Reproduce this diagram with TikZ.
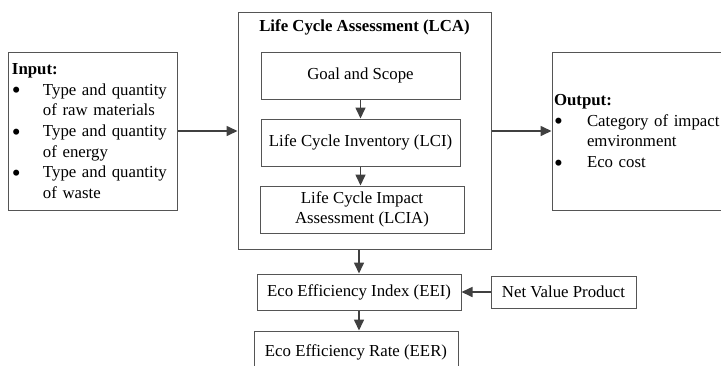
\documentclass[tikz,border=0pt]{standalone}
\usepackage{fontspec}
\setmainfont{Liberation Serif}
\usetikzlibrary{arrows.meta}
\definecolor{boxline}{RGB}{85,85,85}
\definecolor{arrline}{RGB}{64,64,64}
\tikzset{
  box/.style={draw=boxline, line width=1pt, inner sep=0pt, align=center,
    font=\fontsize{16.8}{20.7}\selectfont},
  listbox/.style={draw=boxline, line width=1pt, align=left, inner ysep=0pt,
    font=\fontsize{16.8}{20.7}\selectfont},
  arr/.style={draw=arrline, line width=1.6pt, -{Triangle[length=11pt,width=10pt]}}
}
\newcommand{\bul}[1]{\makebox[#1][l]{\smash{\raisebox{-3.6pt}{\scalebox{1.5}{•}}}}}
\begin{document}
\begin{tikzpicture}[x=1pt,y=-1pt]
\useasboundingbox (0,0) rectangle (721,365);
\clip (0,0) rectangle (721,365);
% input
\node[listbox, minimum width=169pt, minimum height=158pt, text width=161pt, inner xsep=4pt] (input) at (92.5,131)
 {\textbf{Input:}\\
  \bul{31pt}Type and quantity\\
  \hspace*{31pt}of raw materials\\
  \bul{31pt}Type and quantity\\
  \hspace*{31pt}of energy\\
  \bul{31pt}Type and quantity\\
  \hspace*{31pt}of waste};
% LCA container
\node[box, minimum width=253pt, minimum height=237pt] (lca) at (364.5,130.5) {};
\node[font=\fontsize{16.8}{20.7}\selectfont\bfseries, inner sep=0pt] (title) at (364.5,27) {Life Cycle Assessment (LCA)};
\node[box, minimum width=199pt, minimum height=47pt] (goal) at (360.5,75.5) {Goal and Scope};
\node[box, minimum width=199pt, minimum height=47pt] (lci) at (360.5,142.5) {Life Cycle Inventory (LCI)};
\node[box, minimum width=204pt, minimum height=47pt] (lcia) at (362,209.5) {Life Cycle Impact\\Assessment (LCIA)};
% output
\node[listbox, minimum width=188pt, minimum height=158pt, text width=184pt, inner xsep=2pt] (output) at (646,131)
 {\textbf{Output:}\\
  \bul{33pt}Category of impact\\
  \hspace*{33pt}emvironment\\
  \bul{33pt}Eco cost};
% bottom
\node[box, minimum width=204pt, minimum height=36pt] (eei) at (359,292) {Eco Efficiency Index (EEI)};
\node[box, minimum width=145pt, minimum height=32pt] (nvp) at (563.5,292) {Net Value Product};
\node[box, minimum width=204pt, minimum height=42pt] (eer) at (356,352) {Eco Efficiency Rate (EER)};
% connectors
\draw[arr] (input.east) -- (input.east -| lca.west);
\draw[arr] (output.west -| lca.east) -- (output.west);
\draw[arr] (goal.south) -- (lci.north);
\draw[arr] (lci.south) -- (lci.south |- lcia.north);
\draw[arr] (eei.north |- lca.south) -- (eei.north);
\draw[arr] (eei.south) -- (eei.south |- eer.north);
\draw[arr] (nvp.west) -- (eei.east);
\end{tikzpicture}
\end{document}
